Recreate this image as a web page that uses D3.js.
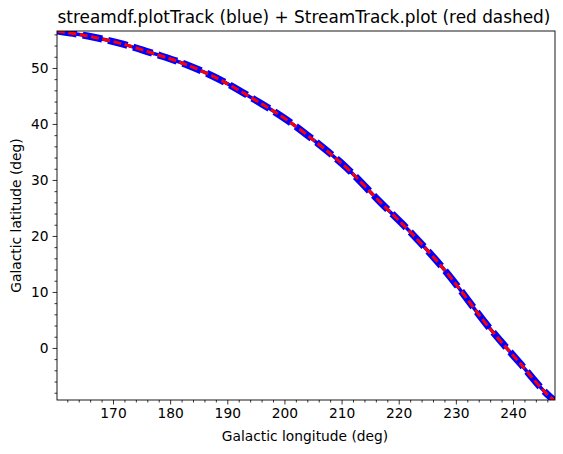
<!DOCTYPE html>
<html><head><meta charset="utf-8">
<script src="https://cdn.jsdelivr.net/npm/d3@7"></script>
<style>body{margin:0;background:#fff}text{font-family:"DejaVu Sans",sans-serif;fill:#000}</style>
</head><body><svg id="c" width="563" height="454"></svg>
<script>
const lon = [160.2, 165.6, 171.6, 177.35, 183.1, 189.1, 194.85, 200.6, 205.0, 210.95, 216.7, 222.5, 228.45, 235.45, 241.2, 246.5, 247.4];
const lat = [56.6, 55.7, 54.3, 52.5, 50.5, 47.7, 44.3, 40.6, 37.2, 32.1, 26.1, 20.2, 13.4, 4.1, -2.7, -8.75, -9.5];
const xTicks = [170, 180, 190, 200, 210, 220, 230, 240];
const yTicks = [0, 10, 20, 30, 40, 50];
const xDomain = [160.2, 247.35];
const yDomain = [-9.3, 56.6];

const W = 563, H = 454, L = 57, T = 31, R = 555, B = 400;
const svg = d3.select("#c");
const x = d3.scaleLinear().domain(xDomain).range([L, R]);
const y = d3.scaleLinear().domain(yDomain).range([B, T]);
const pts = lon.map((d, i) => [d, lat[i]]);

svg.append("clipPath").attr("id", "clip").append("rect")
  .attr("x", L).attr("y", T).attr("width", R - L).attr("height", B - T);

const line = d3.line().x(d => x(d[0])).y(d => y(d[1])).curve(d3.curveMonotoneX);
const g = svg.append("g").attr("clip-path", "url(#clip)");
g.append("path").datum(pts).attr("d", line).attr("fill", "none")
  .attr("stroke", "#0000ff").attr("stroke-width", 3.5);
g.append("path").datum(pts).attr("d", line).attr("fill", "none")
  .attr("stroke", "#0000ff").attr("stroke-width", 7).attr("stroke-dasharray", "20 6");
g.append("path").datum(pts).attr("d", line).attr("fill", "none")
  .attr("stroke", "#ff0000").attr("stroke-width", 3).attr("stroke-dasharray", "8 3.5");

// axes
const xMinor = d3.range(162, 248, 2).filter(v => v % 10 !== 0);
const yMinor = d3.range(-8, 57, 2).filter(v => v % 10 !== 0);
const xa = svg.append("g").attr("transform", `translate(0,${B})`)
  .call(d3.axisBottom(x).tickValues(xTicks).tickSize(4.5).tickPadding(4).tickFormat(d3.format("d")));
const xm = svg.append("g").attr("transform", `translate(0,${B})`)
  .call(d3.axisBottom(x).tickValues(xMinor).tickSize(2.5).tickFormat(""));
const ya = svg.append("g").attr("transform", `translate(${L},0)`)
  .call(d3.axisLeft(y).tickValues(yTicks).tickSize(4.5).tickPadding(4).tickFormat(d3.format("d")));
const ym = svg.append("g").attr("transform", `translate(${L},0)`)
  .call(d3.axisLeft(y).tickValues(yMinor).tickSize(2.5).tickFormat(""));
[xa, xm, ya, ym].forEach(a => {
  a.select(".domain").remove();
  a.selectAll("line").attr("stroke", "#000").attr("stroke-width", 0.8);
  a.selectAll("text").style("font-size", "13.8px").style("font-family", "DejaVu Sans");
});
svg.append("rect").attr("x", L).attr("y", T).attr("width", R - L).attr("height", B - T)
  .attr("fill", "none").attr("stroke", "#000").attr("stroke-width", 0.9);

svg.append("text").attr("x", (L + R) / 2 - 2).attr("y", 23).attr("text-anchor", "middle")
  .style("font-size", "16.9px").text("streamdf.plotTrack (blue) + StreamTrack.plot (red dashed)");
svg.append("text").attr("x", (L + R) / 2 - 1).attr("y", 441).attr("text-anchor", "middle")
  .style("font-size", "13.8px").text("Galactic longitude (deg)");
svg.append("text").attr("transform", `translate(21,${(T + B) / 2}) rotate(-90)`).attr("text-anchor", "middle")
  .style("font-size", "13.8px").text("Galactic latitude (deg)");
</script></body></html>
